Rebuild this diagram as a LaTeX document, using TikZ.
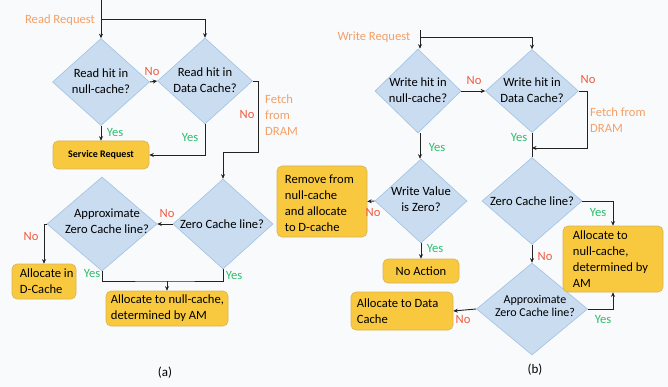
\documentclass[tikz,border=0pt]{standalone}
\usepackage{fontspec}
\setmainfont{Carlito}
\usetikzlibrary{shapes.geometric,arrows.meta}
\definecolor{bgc}{HTML}{F9FAFC}
\definecolor{diaf}{HTML}{C9DCF0}
\definecolor{diab}{HTML}{9FC2E4}
\definecolor{boxf}{HTML}{F8C93E}
\definecolor{boxb}{HTML}{D8B455}
\definecolor{orng}{HTML}{F5A066}
\definecolor{nored}{HTML}{EF5A3F}
\definecolor{yesg}{HTML}{2DBE6C}
\definecolor{linec}{HTML}{222222}
\tikzset{
  dia/.style={diamond, draw=diab, fill=diaf, line width=0.6pt, inner sep=0pt},
  dtxt/.style={align=center, inner sep=0pt},
  ybox/.style={draw=boxb, fill=boxf, line width=0.6pt, rounded corners=5pt, inner sep=0pt},
  btxt/.style={align=left, inner sep=0pt, anchor=west},
  conn/.style={draw=linec, line width=0.9pt},
  arr/.style={conn, -{Stealth[length=4.5pt,width=4pt]}},
  nolab/.style={text=nored, inner sep=0pt},
  yeslab/.style={text=yesg, inner sep=0pt},
  orlab/.style={text=orng, inner sep=0pt, align=left},
}
\begin{document}
\begin{tikzpicture}[x=1pt,y=-1pt, font=\fontsize{12.6}{16}\selectfont]
\fill[bgc] (0,0) rectangle (668,387);
\useasboundingbox (0,0) rectangle (668,387);

% ---------- (a) ----------
\node[dia, minimum width=97pt, minimum height=87pt] (d1) at (101,82) {};
\node[dtxt] (t1) at (101,81) {Read hit in\\null-cache?};
\node[dia, minimum width=95pt, minimum height=86pt] (d2) at (205,81) {};
\node[dtxt] (t2) at (205,80) {Read hit in\\Data Cache?};
\node[dia, minimum width=100pt, minimum height=90pt] (d3) at (223,224) {};
\node[dtxt] (t3) at (222,224) {Zero Cache line?};
\node[dia, minimum width=110pt, minimum height=94pt] (d4) at (102,224) {};
\node[dtxt] (t4) at (107,221) {Approximate\\Zero Cache line?};

\node[ybox, minimum width=96pt, minimum height=28pt, font=\fontsize{10}{12}\selectfont\bfseries] (b1) at (101,155) {Service Request};
\node[ybox, minimum width=64pt, minimum height=35pt] (b2) at (44,281.5) {};
\node[btxt] (bt2) at ([xshift=8pt]b2.west) {Allocate in\\D-Cache};
\node[ybox, minimum width=122pt, minimum height=35pt] (b3) at (167,308.5) {};
\node[btxt] (bt3) at ([xshift=5pt]b3.west) {Allocate to null-cache,\\determined by AM};

\coordinate (rs) at (101,0);
\coordinate (rj) at (101,19);
\draw[arr] (rs) -- (d1.north);
\draw[arr] (rj) -| (d2.north);
\draw[arr] (d1.east) -- (d2.west);
\draw[arr] (d1.south) -- (b1.north);
\draw[arr] (d2.south) |- (b1.east);
\coordinate (f1) at (258,152);
\draw[arr] (d2.east) -| (f1) -| (d3.north);
\draw[arr] (d3.west) -- (d4.east);
\draw[arr] (d4.west) -| (b2.north);
\coordinate (j1) at (167,281);
\draw[conn] (d4.south) |- (j1) -| (d3.south);
\draw[arr] (j1) -- (b3.north);

\node[orlab] (lr) at (60,20) {Read Request};
\node[nolab] (n1) at (152,72) {No};
\node[yeslab] (y1) at (115,133) {Yes};
\node[yeslab] (y2) at (190,138) {Yes};
\node[nolab] (n2) at (247,115) {No};
\node[orlab, anchor=west] (ff1) at (265,115) {Fetch\\from\\DRAM};
\node[nolab] (n3) at (167,214) {No};
\node[nolab] (n4) at (31,237) {No};
\node[yeslab] (y3) at (92,274) {Yes};
\node[yeslab] (y4) at (234,276) {Yes};
\node[font=\fontsize{13}{16}\selectfont] (ca) at (165,373) {(a)};

% ---------- (b) ----------
\node[dia, minimum width=86pt, minimum height=84pt] (d5) at (418,91) {};
\node[dtxt] (t5) at (418,90) {Write hit in\\null-cache?};
\node[dia, minimum width=93pt, minimum height=83pt] (d6) at (532,91) {};
\node[dtxt] (t6) at (532,90) {Write hit in\\Data Cache?};
\node[dia, minimum width=92pt, minimum height=84pt] (d7) at (421,201) {};
\node[dtxt] (t7) at (421,199) {Write Value\\is Zero?};
\node[dia, minimum width=100pt, minimum height=87pt] (d8) at (532,201) {};
\node[dtxt] (t8) at (532,201) {Zero Cache line?};
\node[dia, minimum width=111pt, minimum height=92pt] (d9) at (532,309) {};
\node[dtxt, font=\fontsize{12}{13.5}\selectfont] (t9) at (535,306) {Approximate\\Zero Cache line?};

\node[ybox, minimum width=90pt, minimum height=71pt] (b4) at (322,201.5) {};
\node[btxt] (bt4) at ([xshift=8pt,yshift=-1.5pt]b4.west) {Remove from\\null-cache\\and allocate\\to D-cache};
\node[ybox, minimum width=76pt, minimum height=24pt] (b5) at (421,271) {No Action};
\node[ybox, minimum width=102pt, minimum height=38pt] (b6) at (402,311) {};
\node[btxt] (bt6) at ([xshift=6pt]b6.west) {Allocate to Data\\Cache};
\node[ybox, minimum width=100pt, minimum height=66pt] (b7) at (613,259) {};
\node[btxt] (bt7) at ([xshift=10pt]b7.west) {Allocate to\\null-cache,\\determined by\\AM};

\coordinate (ws) at (420,30);
\coordinate (wj) at (420,37);
\draw[arr] (ws) -- (d5.north -| ws);
\draw[arr] (wj) -| (d6.north);
\draw[arr] (d5.east) -- (d6.west);
\draw[conn] (d6.south) -- (d8.north);
\coordinate (f2) at (587,148);
\coordinate (m2) at (532,148);
\draw[arr] (d6.east) -| (f2) -- (m2);
\draw[arr] (d5.south -| ws) -- (d7.north -| ws);
\draw[arr] (d7.west) -- (b4.east);
\draw[arr] (d7.south) -- (b5.north);
\draw[arr] (d8.east) -| (b7.north);
\draw[arr] (d8.south) -- (d9.north);
\draw[arr] (d9.east) -| (b7.south);
\draw[arr] (d9.west) -- (b6.east);

\node[orlab] (lw) at (374,37) {Write Request};
\node[nolab] (n5) at (474,81) {No};
\node[nolab] (n6) at (588,80) {No};
\node[orlab, anchor=west] (ff2) at (590,120) {Fetch from\\DRAM};
\node[yeslab] (y5) at (519,138) {Yes};
\node[yeslab] (y6) at (437,148) {Yes};
\node[nolab] (n7) at (373,213) {No};
\node[yeslab] (y7) at (435,249) {Yes};
\node[yeslab] (y8) at (598,213) {Yes};
\node[nolab] (n8) at (545,257) {No};
\node[yeslab] (y9) at (603,320) {Yes};
\node[nolab] (n9) at (463,319) {No};
\node[font=\fontsize{13}{16}\selectfont] (cb) at (535,370) {(b)};
\end{tikzpicture}
\end{document}
